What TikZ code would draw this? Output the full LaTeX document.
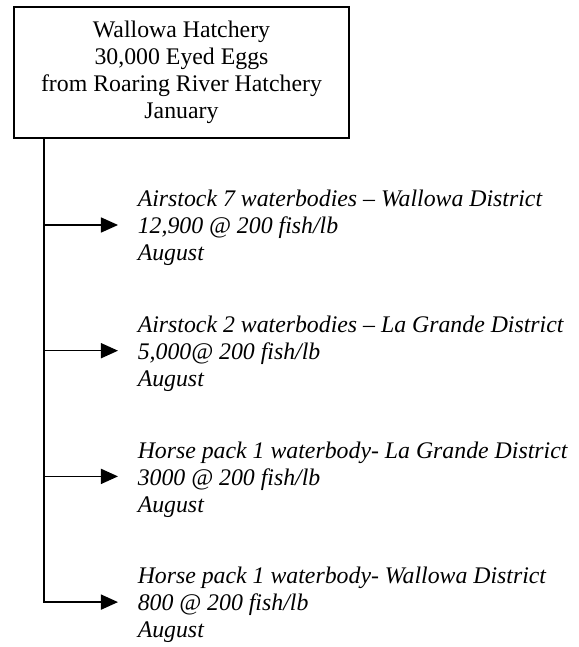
\documentclass[tikz,border=0pt]{standalone}
\usepackage{fontspec}
\setmainfont{Liberation Serif}
\usetikzlibrary{positioning,arrows.meta}

\begin{document}
\begin{tikzpicture}[->,>={Triangle[length=17pt,width=15pt]},line width=1.5pt,auto,node distance=125.7pt,
    hatchery node/.style={draw,line width=1.8pt,align=center,minimum width=335pt,minimum height=131pt,inner sep=0pt,font=\fontsize{23.8}{27}\selectfont},
    stock node/.style={align=left,inner xsep=19pt,inner ysep=0pt,font=\fontsize{23.8}{27}\selectfont\itshape}]

            \useasboundingbox (-181.5pt,72.5pt) rectangle (396.5pt,-574.5pt);

            \node[hatchery node] (1) []{Wallowa Hatchery\\30,000 Eyed Eggs\\from Roaring River Hatchery\\January};
            \node[] (2) [below of = 1, xshift=-137.5, yshift=-26.8]{};
            \node[] (3) [below of = 2]{};
            \node[] (4) [below of = 3]{};
            \node[] (5) [below of = 4]{};

            \node[stock node] (2b) [right of = 2, anchor=west, xshift=-51.7, yshift=-3]{Airstock 7 waterbodies – Wallowa District\\12,900 @ 200 fish/lb\\August};
            \node[stock node] (3b) [right of = 3, anchor=west, xshift=-51.7, yshift=-3]{Airstock 2 waterbodies – La Grande District\\5,000@ 200 fish/lb\\August};
            \node[stock node] (4b) [right of = 4, anchor=west, xshift=-51.7, yshift=-3]{Horse pack 1 waterbody- La Grande District\\3000 @ 200 fish/lb\\August};
            \node[stock node] (5b) [right of = 5, anchor=west, xshift=-51.7, yshift=-3]{Horse pack 1 waterbody- Wallowa District\\800 @ 200 fish/lb\\August};

            \draw (1.south -| 5.center) |- (5b.west |- 5.center);
            \path
                (2.center) edge (2b.west |- 2.center)
                (3.center) edge (3b.west |- 3.center)
                (4.center) edge (4b.west |- 4.center)
            ;
        \end{tikzpicture}
\end{document}
